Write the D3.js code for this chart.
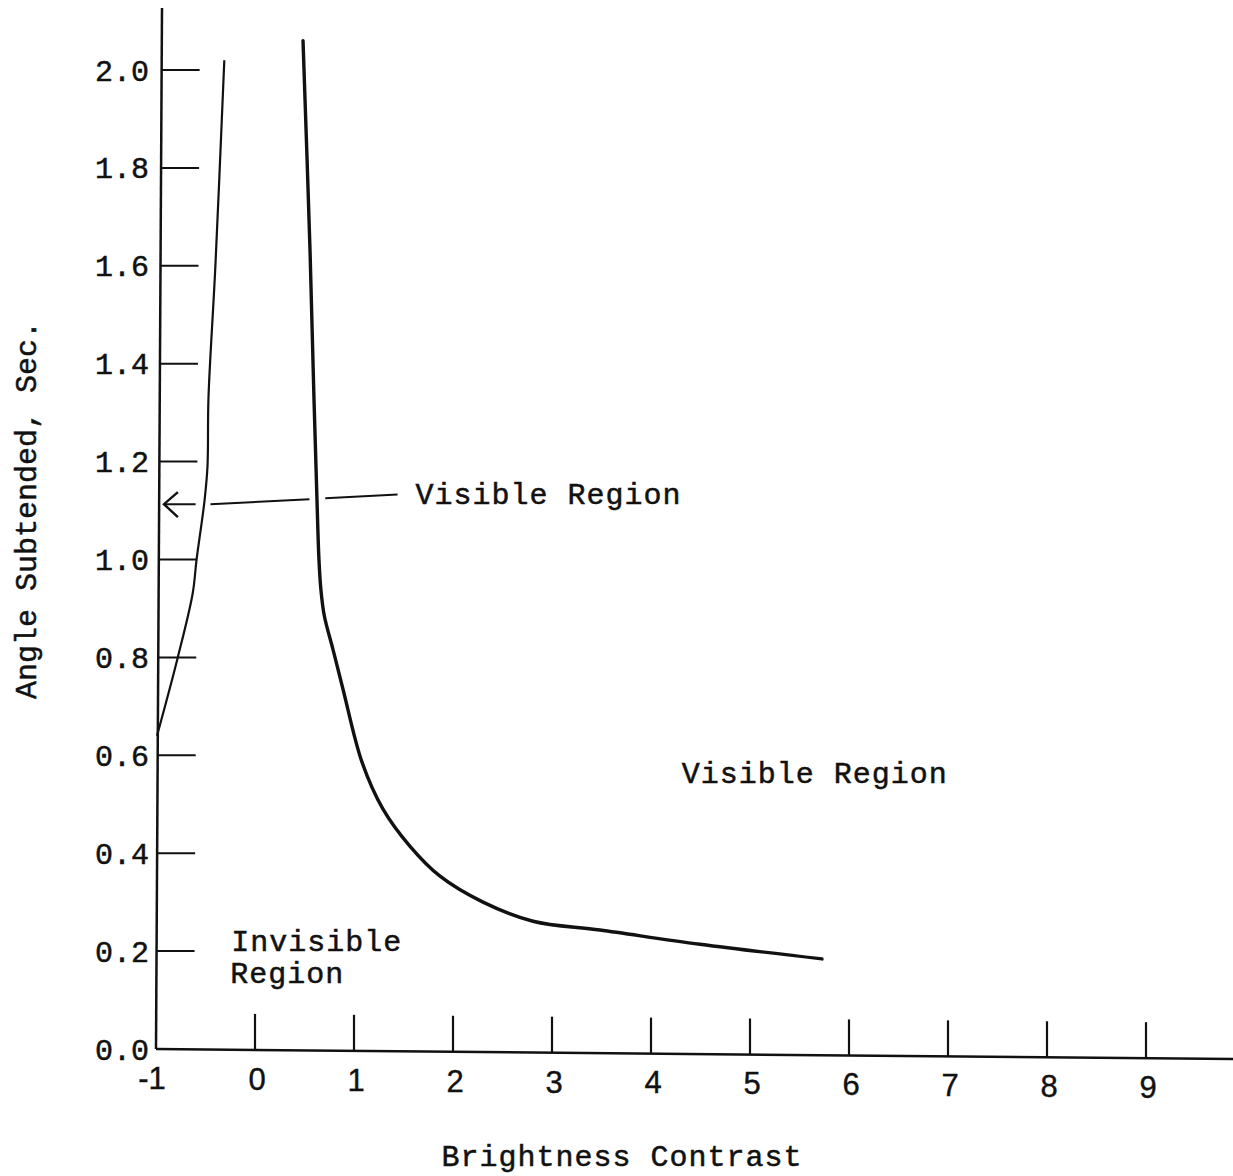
<!DOCTYPE html>
<html>
<head>
<meta charset="utf-8">
<script src="https://cdn.jsdelivr.net/npm/d3@7"></script>
<style>
  body { margin: 0; background: #fff; }
  svg { display: block; }
  .mono { font-family: "Courier New", "Liberation Mono", monospace; fill: #111; stroke: #111; stroke-width: 0.5px; }
  .num { font-family: "Liberation Sans Narrow", "Liberation Sans", sans-serif; fill: #111; stroke: #111; stroke-width: 0.4px; }
</style>
</head>
<body>
<svg id="chart"></svg>
<script>
const width = 1233
const height = 1176

// tick values
const xTicks = [-1, 0, 1, 2, 3, 4, 5, 6, 7, 8, 9]
const yTicks = [0, 0.2, 0.4, 0.6, 0.8, 1.0, 1.2, 1.4, 1.6, 1.8, 2.0]

// left boundary curve (thin)
const leftX = [-0.99, -0.78, -0.63, -0.59, -0.51, -0.48, -0.47, -0.40, -0.31]
const leftY = [0.64, 0.80, 0.93, 1.00, 1.12, 1.19, 1.33, 1.60, 2.02]

// right boundary curve (heavy)
const rightX = [0.485, 0.556, 0.596, 0.626, 0.646, 0.665, 0.700, 0.788, 0.889, 1.081, 1.293, 1.566, 1.869, 2.303, 2.808, 3.485, 4.495, 5.727]
const rightY = [2.06, 1.63, 1.327, 1.122, 1.0, 0.94, 0.885, 0.816, 0.735, 0.586, 0.490, 0.414, 0.353, 0.300, 0.261, 0.243, 0.214, 0.184]

const svg = d3.select("#chart")
  .attr("width", width)
  .attr("height", height)
  .attr("viewBox", [0, 0, width, height])

svg.append("rect").attr("width", width).attr("height", height).attr("fill", "#fff")

const x = d3.scaleLinear().domain([-1, 9]).range([156, 1146])
const y = d3.scaleLinear().domain([0, 2]).range([1049, 70])

// the scanned axes lean a little
const axisTop = 8
const ySlant = 6   // px the y axis leans right over its height
const xSlant = 10  // px the x axis drops over its length
function yAxisX(py) { return x(-1) + ySlant * (y(0) - py) / (y(0) - axisTop) }
function xAxisY(px) { return y(0) + xSlant * (px - x(-1)) / (width - x(-1)) }

const g = svg.append("g").attr("stroke", "#111").attr("fill", "none")

// y axis
g.append("line")
  .attr("x1", yAxisX(y(0))).attr("y1", y(0))
  .attr("x2", yAxisX(axisTop)).attr("y2", axisTop)
  .attr("stroke-width", 2.5)

// x axis
g.append("line")
  .attr("x1", x(-1)).attr("y1", xAxisY(x(-1)))
  .attr("x2", width).attr("y2", xAxisY(width))
  .attr("stroke-width", 2.5)

// y ticks point inward
g.selectAll(".ytick")
  .data(yTicks.filter(d => d > 0))
  .enter()
  .append("line")
  .attr("class", "ytick")
  .attr("x1", d => yAxisX(y(d)))
  .attr("x2", d => yAxisX(y(d)) + 38)
  .attr("y1", d => y(d))
  .attr("y2", d => y(d))
  .attr("stroke-width", 2)

// x ticks point up
g.selectAll(".xtick")
  .data(xTicks.filter(d => d > -1))
  .enter()
  .append("line")
  .attr("class", "xtick")
  .attr("x1", d => x(d))
  .attr("x2", d => x(d))
  .attr("y1", d => xAxisY(x(d)))
  .attr("y2", d => xAxisY(x(d)) - 36)
  .attr("stroke-width", 2.2)

svg.selectAll(".ylabel")
  .data(yTicks)
  .enter()
  .append("text")
  .attr("class", "ylabel mono")
  .attr("x", 149)
  .attr("y", d => y(d))
  .attr("dy", "0.35em")
  .attr("text-anchor", "end")
  .style("font-size", "30px")
  .text(d => d.toFixed(1))

svg.selectAll(".xlabel")
  .data(xTicks)
  .enter()
  .append("text")
  .attr("class", "xlabel num")
  .attr("x", d => d == -1 ? x(d) - 4 : x(d) + 2)
  .attr("y", d => xAxisY(x(d)) + 29)
  .attr("dy", "0.35em")
  .attr("text-anchor", "middle")
  .style("font-size", "31px")
  .text(d => d)

// curves
const line = d3.line()
  .x(d => x(d[0]))
  .y(d => y(d[1]))
  .curve(d3.curveCatmullRom.alpha(0.5))

g.append("path")
  .datum(d3.zip(leftX, leftY))
  .attr("d", line)
  .attr("stroke-width", 2.2)

g.append("path")
  .datum(d3.zip(rightX, rightY))
  .attr("d", line)
  .attr("stroke-width", 3.4)
  .attr("stroke-linecap", "round")

// pointer from the label to the gap between the curves
const pointer = [
  [[-0.92, 1.113], [-0.60, 1.113]],
  [[-0.45, 1.113], [0.55, 1.123]],
  [[0.71, 1.125], [1.44, 1.133]]
]
pointer.forEach(seg => {
  g.append("line")
    .attr("x1", x(seg[0][0])).attr("y1", y(seg[0][1]))
    .attr("x2", x(seg[1][0])).attr("y2", y(seg[1][1]))
    .attr("stroke-width", 2)
})
const tip = [x(-0.92), y(1.113)]
g.append("path")
  .attr("d", `M${tip[0] + 14},${tip[1] - 12} L${tip[0]},${tip[1]} L${tip[0] + 14},${tip[1] + 13}`)
  .attr("stroke-width", 2.4)

function label(txt, vx, vy) {
  svg.append("text")
    .attr("class", "mono")
    .attr("x", x(vx))
    .attr("y", y(vy))
    .attr("dy", "0.35em")
    .style("font-size", "30px")
    .style("letter-spacing", "1px")
    .text(txt)
}
label("Visible Region", 1.62, 1.135)
label("Visible Region", 4.31, 0.565)
label("Invisible", -0.24, 0.222)
label("Region", -0.25, 0.157)

svg.append("text")
  .attr("class", "mono")
  .attr("x", 622)
  .attr("y", 1155)
  .attr("dy", "0.35em")
  .attr("text-anchor", "middle")
  .style("font-size", "30px")
  .style("letter-spacing", "1px")
  .text("Brightness Contrast")

svg.append("text")
  .attr("class", "mono")
  .attr("transform", "translate(25,510) rotate(-90)")
  .attr("dy", "0.35em")
  .attr("text-anchor", "middle")
  .style("font-size", "30px")
  .text("Angle Subtended, Sec.")
</script>
</body>
</html>
